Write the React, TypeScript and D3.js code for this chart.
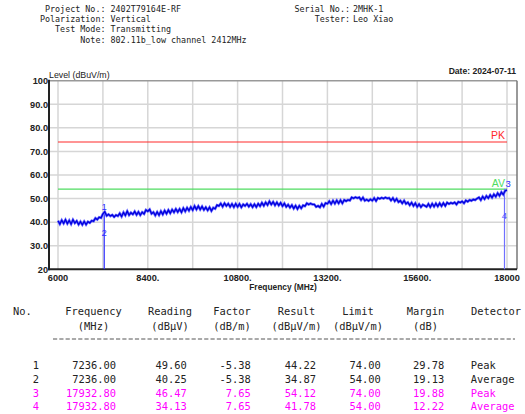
import React from 'react'
import * as d3 from 'd3'

// header info
const headerLeft = [
  ['Project No.:', '2402T79164E-RF'],
  ['Polarization:', 'Vertical'],
  ['Test Mode:', 'Transmitting'],
  ['Note:', '802.11b_low channel 2412MHz'],
]
const headerRight = [
  ['Serial No.:', '2MHK-1'],
  ['Tester:', 'Leo Xiao'],
]

// axes
const xTicks = [6000, 8400, 10800, 13200, 15600, 18000]
const xTickLabels = ['6000', '8400.', '10800.', '13200.', '15600.', '18000']
const xGrid = [6000, 7200, 8400, 9600, 10800, 12000, 13200, 14400, 15600, 16800, 18000]
const yTicks = [100, 90, 80, 70, 60, 50, 40, 30, 20]
const yTickLabels = ['100', '90.0', '80.0', '70.0', '60.0', '50.0', '40.0', '30.0', '20']

// limits
const peakLimit = 74
const avgLimit = 54

// measured trace, 6000..18000 MHz, 50 MHz step
const traceStart = 6000
const traceStep = 50
const traceLevel = [
  40.6, 39.2, 40.8, 39.5, 41.0, 39.4, 40.7, 39.2, 41.0, 39.6,
  40.5, 39.0, 40.2, 38.9, 40.3, 39.0, 40.2, 39.7, 40.6, 40.4,
  41.7, 41.1, 42.1, 41.8, 43.5, 44.4, 42.7, 43.3, 42.6, 43.1,
  42.2, 43.0, 42.6, 43.7, 42.4, 44.1, 42.9, 44.6, 43.0, 44.0,
  43.3, 44.5, 43.1, 44.3, 43.0, 44.2, 43.5, 45.2, 44.6, 45.4,
  43.6, 44.2, 42.9, 44.3, 43.0, 44.6, 43.3, 44.9, 43.6, 45.1,
  43.8, 45.3, 44.2, 45.6, 44.3, 45.6, 44.2, 45.9, 44.6, 46.1,
  44.9, 46.4, 45.1, 46.8, 45.4, 46.8, 45.4, 46.6, 45.2, 46.3,
  45.0, 46.3, 44.8, 46.1, 45.7, 47.2, 46.9, 47.9, 46.6, 48.0,
  46.9, 47.8, 46.5, 47.7, 46.4, 47.8, 46.5, 47.7, 46.3, 47.5,
  46.9, 47.8, 46.6, 47.6, 46.4, 47.6, 46.4, 47.8, 46.8, 48.2,
  47.0, 48.4, 47.3, 48.8, 47.5, 48.6, 47.2, 48.4, 47.1, 48.2,
  46.8, 47.9, 46.5, 47.4, 46.2, 47.2, 45.8, 47.0, 45.6, 46.9,
  45.9, 47.1, 46.8, 48.0, 47.5, 47.9, 47.5, 47.5, 46.5, 46.9,
  46.3, 47.7, 46.6, 48.1, 47.8, 48.9, 47.7, 49.1, 47.9, 49.2,
  48.0, 49.3, 48.0, 49.4, 48.9, 49.4, 49.2, 50.5, 50.1, 50.6,
  50.2, 50.5, 49.4, 50.4, 49.1, 49.6, 49.0, 49.7, 49.1, 50.2,
  49.0, 50.3, 49.9, 50.4, 50.0, 50.5, 50.1, 50.3, 49.2, 50.2,
  48.9, 49.9, 48.5, 49.1, 48.0, 49.1, 47.8, 48.4, 47.2, 48.3,
  46.9, 48.0, 46.5, 47.6, 46.4, 47.4, 47.0, 46.5, 47.7, 46.4,
  47.8, 46.6, 47.9, 46.7, 48.0, 46.8, 48.1, 46.9, 48.3, 47.7,
  48.2, 47.9, 48.4, 47.5, 48.6, 48.3, 48.8, 48.0, 49.2, 48.7,
  49.4, 49.1, 49.6, 49.4, 50.0, 50.5, 49.4, 50.8, 49.8, 51.1,
  50.2, 51.5, 50.4, 51.8, 50.8, 52.3, 51.2, 52.7, 51.7, 53.3,
  53.6,
]

// markers / table
const markerNo = ['1', '2', '3', '4']
const markerFreq = [7236.0, 7236.0, 17932.8, 17932.8]
const markerReading = [49.6, 40.25, 46.47, 34.13]
const markerFactor = [-5.38, -5.38, 7.65, 7.65]
const markerResult = [44.22, 34.87, 54.12, 41.78]
const markerLimit = [74.0, 54.0, 74.0, 54.0]
const markerMargin = [29.78, 19.13, 19.88, 12.22]
const markerDetector = ['Peak', 'Average', 'Peak', 'Average']

const W = 525
const H = 414
const left = 49
const right = 517
const top = 80.7
const bottom = 269.3

const sans = '"Liberation Sans", Arial, sans-serif'
const mono = '"DejaVu Sans Mono", monospace'

export default function App() {
  const x = d3.scaleLinear().domain([6000, 18000]).range([58, 507])
  const y = d3.scaleLinear().domain([20, 100]).range([bottom, top])

  const trace = traceLevel.map((v, i) => [traceStart + i * traceStep, v] as [number, number])
  const line = d3.line<[number, number]>().x(d => x(d[0])).y(d => y(d[1]))
  const tracePath = line(trace) || ''

  const rowColor = (i: number) => (i < 2 ? '#222' : '#ff00ff')
  const rowY = [369.3, 383, 396.7, 410.4]

  // table header columns, centred
  const cols = [
    { h1: 'No.', h2: '', c: 22.5 },
    { h1: 'Frequency', h2: '(MHz)', c: 93.5 },
    { h1: 'Reading', h2: '(dBμV)', c: 170 },
    { h1: 'Factor', h2: '(dB/m)', c: 232 },
    { h1: 'Result', h2: '(dBμV/m)', c: 296.5 },
    { h1: 'Limit', h2: '(dBμV/m)', c: 358 },
    { h1: 'Margin', h2: '(dB)', c: 425.5 },
    { h1: 'Detector', h2: '', c: 496 },
  ]

  return (
    <svg
      width={W}
      height={H}
      style={{ position: 'fixed', left: 0, top: 0, background: '#fff' }}
    >
      <rect x={0} y={0} width={W} height={H} fill="#fff" />

      {/* header */}
      <g fontFamily={mono} fontSize={8.4} fill="#222">
        {headerLeft.map((d, i) => (
          <g key={i}>
            <text x={105.5} y={12 + i * 10.2} textAnchor="end">{d[0]}</text>
            <text x={110.5} y={12 + i * 10.2}>{d[1]}</text>
          </g>
        ))}
        {headerRight.map((d, i) => (
          <g key={i}>
            <text x={350} y={12 + i * 10.2} textAnchor="end">{d[0]}</text>
            <text x={353} y={12 + i * 10.2}>{d[1]}</text>
          </g>
        ))}
      </g>

      {/* grid */}
      <g stroke="#d6d6d6" strokeWidth={1.5}>
        {xGrid.map(f => (
          <line key={f} x1={x(f)} x2={x(f)} y1={top} y2={bottom} />
        ))}
        {yTicks.filter(v => v > 20 && v < 100).map(v => (
          <line key={v} x1={left} x2={right} y1={y(v)} y2={y(v)} />
        ))}
      </g>

      {/* frame */}
      <line x1={left} x2={right} y1={top} y2={top} stroke="#999" strokeWidth={1.5} />
      <line x1={right} x2={right} y1={top} y2={bottom} stroke="#777" strokeWidth={1.5} />
      <line x1={left} x2={left} y1={top - 1} y2={bottom + 1} stroke="#222" strokeWidth={2} />
      <line x1={left - 1} x2={right} y1={bottom} y2={bottom} stroke="#222" strokeWidth={2} />

      {/* limits */}
      <line x1={x(6000)} x2={x(18000)} y1={y(peakLimit)} y2={y(peakLimit)} stroke="#ff2a2a" strokeWidth={1.2} />
      <line x1={x(6000)} x2={x(18000)} y1={y(avgLimit)} y2={y(avgLimit)} stroke="#4fdc60" strokeWidth={1.2} />
      <text x={505} y={y(peakLimit) - 2.5} textAnchor="end" fontFamily={sans} fontSize={10.5} fill="#ff2a2a">PK</text>
      <text x={505} y={y(avgLimit) - 2.5} textAnchor="end" fontFamily={sans} fontSize={10.5} fill="#4fdc60">AV</text>

      {/* marker lines */}
      <line x1={x(markerFreq[0])} x2={x(markerFreq[0])} y1={y(markerResult[0])} y2={bottom} stroke="#3030ff" strokeWidth={1.2} />
      <line x1={x(markerFreq[2])} x2={x(markerFreq[2])} y1={y(markerResult[2])} y2={bottom} stroke="#7070ff" strokeWidth={1.2} />

      {/* trace */}
      <path d={tracePath} fill="none" stroke="#6a6aff" strokeWidth={2.6} strokeLinejoin="miter" />
      <path d={tracePath} fill="none" stroke="#0000dd" strokeWidth={1.3} strokeLinejoin="miter" />

      {/* marker labels */}
      <g fontFamily={sans} fontSize={9.5} fill="#3030ff">
        <text x={x(markerFreq[0])} y={y(markerResult[0]) - 2.5} textAnchor="middle">{markerNo[0]}</text>
        <text x={x(markerFreq[1])} y={y(markerResult[1]) + 1.5} textAnchor="middle">{markerNo[1]}</text>
        <text x={x(markerFreq[2]) + 1} y={y(markerResult[2]) - 2} textAnchor="start">{markerNo[2]}</text>
        <text x={x(markerFreq[3])} y={y(markerResult[3]) + 1} textAnchor="middle" fill="#5050ff">{markerNo[3]}</text>
      </g>

      {/* axis labels */}
      <g fontFamily={sans} fontSize={9.2} fontWeight="bold" fill="#222">
        {yTicks.map((v, i) => (
          <text key={v} x={48} y={y(v) + 3.3} textAnchor="end">{yTickLabels[i]}</text>
        ))}
        {xTicks.map((f, i) => (
          <text key={f} x={x(f)} y={281} textAnchor="middle">{xTickLabels[i]}</text>
        ))}
      </g>
      <text x={283} y={290} textAnchor="middle" fontFamily={sans} fontSize={8.4} fontWeight="bold" fill="#222">Frequency (MHz)</text>
      <text x={49} y={78} fontFamily={sans} fontSize={8.8} fill="#222">Level (dBuV/m)</text>
      <text x={516} y={73.5} textAnchor="end" fontFamily={sans} fontSize={8.6} fontWeight="bold" fill="#222">Date: 2024-07-11</text>

      {/* table */}
      <g fontFamily={mono} fontSize={10.4} fill="#222">
        {cols.map((c, i) => (
          <g key={i}>
            <text x={c.c} y={315.2} textAnchor="middle">{c.h1}</text>
            {c.h2 && <text x={c.c} y={329.5} textAnchor="middle">{c.h2}</text>}
          </g>
        ))}
      </g>
      <line x1={53} x2={515} y1={339} y2={339} stroke="#555" strokeWidth={1} strokeDasharray="4.2,2.1" />
      <g fontFamily={mono} fontSize={10.4}>
        {markerNo.map((n, i) => (
          <g key={i} fill={rowColor(i)}>
            <text x={39} y={rowY[i]} textAnchor="end">{n}</text>
            <text x={116} y={rowY[i]} textAnchor="end">{markerFreq[i].toFixed(2)}</text>
            <text x={186.7} y={rowY[i]} textAnchor="end">{markerReading[i].toFixed(2)}</text>
            <text x={250.7} y={rowY[i]} textAnchor="end">{markerFactor[i].toFixed(2)}</text>
            <text x={316} y={rowY[i]} textAnchor="end">{markerResult[i].toFixed(2)}</text>
            <text x={380.7} y={rowY[i]} textAnchor="end">{markerLimit[i].toFixed(2)}</text>
            <text x={444.3} y={rowY[i]} textAnchor="end">{markerMargin[i].toFixed(2)}</text>
            <text x={470.7} y={rowY[i]}>{markerDetector[i]}</text>
          </g>
        ))}
      </g>
    </svg>
  )
}
